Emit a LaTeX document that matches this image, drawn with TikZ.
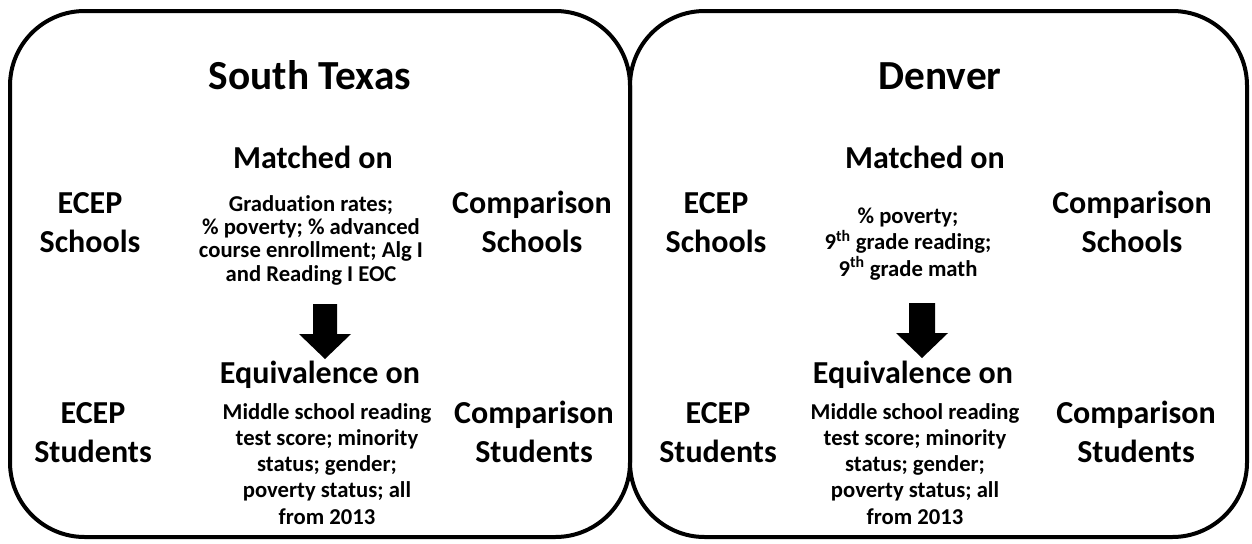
\documentclass[tikz,border=0pt]{standalone}
\usepackage{fontspec}
\setmainfont{Carlito}[Ligatures={NoCommon}]
\tikzset{
  panel/.style={line width=3pt, rounded corners=56pt},
  ttl/.style={font=\bfseries\fontsize{31}{37}\selectfont, anchor=base, inner sep=0pt},
  lbl/.style={font=\bfseries\fontsize{24}{29.3}\selectfont, anchor=base, inner sep=0pt},
  smallA/.style={font=\bfseries\fontsize{17}{17.6}\selectfont, anchor=base, inner sep=0pt},
  smallB/.style={font=\bfseries\fontsize{17}{19.7}\selectfont, anchor=base, inner sep=0pt},
  blockarrow/.style={fill=black},
}
\newcommand{\lines}[1]{\begin{tabular}[t]{@{}c@{}}#1\end{tabular}}
\begin{document}
\begin{tikzpicture}[x=0.75pt,y=-0.75pt]
\useasboundingbox (0,0) rectangle (1252,543);
% panels
\draw[panel] (10,11) rectangle (630,537);
\draw[panel] (630,11) rectangle (1247,537);

% South Texas
\node[ttl] (tx) at (310,89) {South Texas};
\node[lbl] (txm) at (313,168) {Matched on};
\node[lbl] (txes) at (90,213) {\lines{ECEP\\Schools}};
\node[smallA] (txmc) at (311,211) {\lines{Graduation rates;\\\% poverty; \% advanced\\course enrollment; Alg I\\and Reading I EOC}};
\node[lbl] (txcs) at (532,213) {\lines{Comparison\\Schools}};
\fill[blockarrow] (313,304) -- (337,304) -- (337,334) -- (351,334) -- (325,359) -- (299,334) -- (313,334) -- cycle;
\node[lbl] (txe) at (320,383) {Equivalence on};
\node[lbl] (txest) at (93,423) {\lines{ECEP\\Students}};
\node[smallB] (txec) at (327,419) {\lines{Middle school reading\\test score; minority\\status; gender;\\poverty status; all\\from 2013}};
\node[lbl] (txcst) at (534,423) {\lines{Comparison\\Students}};

% Denver
\node[ttl] (dv) at (940,89) {Denver};
\node[lbl] (dvm) at (925,168) {Matched on};
\node[lbl] (dves) at (716,213) {\lines{ECEP\\Schools}};
\node[smallA] (dvmc) at (908,223) {\lines{\% poverty;\\9\textsuperscript{th} grade reading;\\9\textsuperscript{th} grade math}};
\node[lbl] (dvcs) at (1132,213) {\lines{Comparison\\Schools}};
\fill[blockarrow] (909,303) -- (935,303) -- (935,333) -- (948,333) -- (922,358) -- (896,333) -- (909,333) -- cycle;
\node[lbl] (dve) at (913,383) {Equivalence on};
\node[lbl] (dvest) at (718,423) {\lines{ECEP\\Students}};
\node[smallB] (dvec) at (915,419) {\lines{Middle school reading\\test score; minority\\status; gender;\\poverty status; all\\from 2013}};
\node[lbl] (dvcst) at (1136,423) {\lines{Comparison\\Students}};
\end{tikzpicture}
\end{document}
